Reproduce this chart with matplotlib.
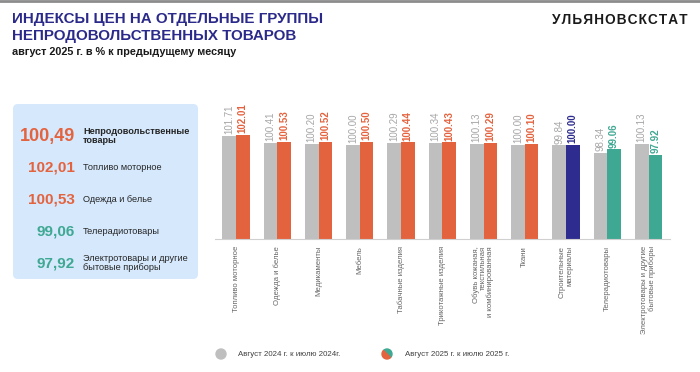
import matplotlib.pyplot as plt
from matplotlib.patches import FancyBboxPatch, Circle, Wedge

plt.rcParams['font.family'] = ['Liberation Sans', 'DejaVu Sans']

categories = ['Топливо моторное', 'Одежда и белье', 'Медикаменты', 'Мебель',
              'Табачные изделия', 'Трикотажные изделия',
              'Обувь кожаная,\nтекстильная\nи комбинированная', 'Ткани',
              'Строительные\nматериалы', 'Телерадиотовары',
              'Электротовары и другие\nбытовые приборы']
aug_2024 = [101.71, 100.41, 100.20, 100.00, 100.29, 100.34, 100.13, 100.00, 99.84, 98.34, 100.13]
aug_2025 = [102.01, 100.53, 100.52, 100.50, 100.44, 100.43, 100.29, 100.10, 100.00, 99.06, 97.92]

panel_values = ['100,49', '102,01', '100,53', '99,06', '97,92']
panel_labels = ['Непродовольственные\nтовары', 'Топливо моторное', 'Одежда и белье',
                'Телерадиотовары', 'Электротовары и другие\nбытовые приборы']

ORANGE = '#E4633F'
TEAL = '#3FA893'
PURPLE = '#2E2C8F'
GRAY = '#BFBFBF'
bar_colors = [ORANGE] * 8 + [PURPLE] + [TEAL] * 2
panel_colors = [ORANGE, ORANGE, ORANGE, TEAL, TEAL]

W, H = 700, 372
fig = plt.figure(figsize=(7, 3.72), dpi=100)

# background overlay in pixel coordinates
bg = fig.add_axes([0, 0, 1, 1])
bg.set_xlim(0, W)
bg.set_ylim(H, 0)
bg.axis('off')
bg.plot([0, W], [1, 1], color='#8C8C8C', lw=2)

bg.text(12, 19, 'ИНДЕКСЫ ЦЕН НА ОТДЕЛЬНЫЕ ГРУППЫ', color='#2B2A8A', fontsize=10.9,
        fontweight='bold', va='center', ha='left')
bg.text(12, 36, 'НЕПРОДОВОЛЬСТВЕННЫХ ТОВАРОВ', color='#2B2A8A', fontsize=10.9,
        fontweight='bold', va='center', ha='left')
bg.text(12, 52, 'август 2025 г. в % к предыдущему месяцу', color='#1A1A1A', fontsize=7.8,
        fontweight='bold', va='center', ha='left')

# logo with hair spaces for wider tracking
bg.text(688, 20, '\u200a'.join('УЛЬЯНОВСКСТАТ'), color='#1A1A1A', fontsize=9.8,
        fontweight='bold', va='center', ha='right')

box = FancyBboxPatch((13, 104), 185, 175, boxstyle='round,pad=0,rounding_size=5',
                     facecolor='#D5E8FC', edgecolor='none')
bg.add_patch(box)

panel_y = [136, 168, 199, 231, 263]
for i, (v, lab, c, y) in enumerate(zip(panel_values, panel_labels, panel_colors, panel_y)):
    bg.text(75, y, v, color=c, fontsize=13 if i == 0 else 11, fontweight='bold',
            ha='right', va='center')
    bg.text(83, y, lab, color='#262626', fontsize=6.6,
            fontweight='bold' if i == 0 else 'normal', ha='left', va='center',
            linespacing=1.0)

# legend
bg.add_patch(Circle((221, 354), 5, color=GRAY))
bg.text(238, 354, 'Август 2024 г. к июлю 2024г.', fontsize=5.7, color='#404040', va='center')
bg.add_patch(Wedge((387, 354), 5, -135, 45, color=TEAL))
bg.add_patch(Wedge((387, 354), 5, 45, 225, color=ORANGE))
bg.text(405, 354, 'Август 2025 г. к июлю 2025 г.', fontsize=5.7, color='#404040', va='center')

# bar chart
ax = fig.add_axes([215 / W, (H - 239) / H, (670 - 215) / W, (239 - 75) / H])
ax.patch.set_alpha(0)
x = list(range(len(categories)))
bw = 0.33
ax.bar([i - bw / 2 for i in x], aug_2024, width=bw, color=GRAY)
ax.bar([i + bw / 2 for i in x], aug_2025, width=bw, color=bar_colors)
for i in x:
    ax.text(i - bw / 2, aug_2024[i] + 0.35, f'{aug_2024[i]:.2f}', rotation=90, ha='center',
            va='bottom', fontsize=7, color='#A6A6A6')
    ax.text(i + bw / 2, aug_2025[i] + 0.35, f'{aug_2025[i]:.2f}', rotation=90, ha='center',
            va='bottom', fontsize=7, color=bar_colors[i], fontweight='bold')
ax.set_xlim(-0.51, 10.52)
ax.set_ylim(81, 114)
ax.set_xticks(x)
ax.set_xticklabels(categories, rotation=90, fontsize=5.6, color='#666666',
                   va='top', ha='center', multialignment='right', linespacing=1.0)
ax.tick_params(axis='x', length=0, pad=5)
ax.set_yticks([])
for s in ['top', 'right', 'left']:
    ax.spines[s].set_visible(False)
ax.spines['bottom'].set_color('#D0D0D0')

fig.savefig('out.png', dpi=100)
